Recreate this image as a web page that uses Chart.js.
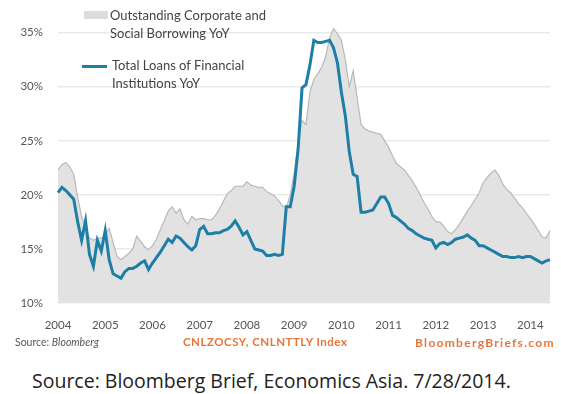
<!DOCTYPE html>
<html>
<head>
<meta charset="utf-8">
<script src="https://cdn.jsdelivr.net/npm/chart.js@4/dist/chart.umd.min.js"></script>
<style>
  html, body { margin: 0; padding: 0; background: #fff; }
  body { width: 561px; height: 394px; position: relative; overflow: hidden; font-family: Lato, "Open Sans", sans-serif; }
  #wrap { position: absolute; left: 0; top: 0; width: 561px; height: 338px; }
  .lg { position: absolute; font-size: 13px; color: #444; line-height: 18px; white-space: nowrap; }
  .sw { position: absolute; }
  .foot { position: absolute; white-space: nowrap; }
</style>
</head>
<body>
<div id="wrap"><canvas id="chart"></canvas></div>

<!-- legend -->
<div class="sw" style="left:84px;top:11px;width:24px;height:8px;background:#dcdcdc"></div>
<div class="lg" style="left:110px;top:6px">Outstanding Corporate and<br>Social Borrowing YoY</div>
<div class="sw" style="left:82px;top:65px;width:25px;height:3px;background:#1e7fa6"></div>
<div class="lg" style="left:112px;top:56px">Total Loans of Financial<br>Institutions YoY</div>

<!-- source lines -->
<div class="foot" style="left:15px;top:336px;font-size:10.5px;color:#555">Source: <i>Bloomberg</i></div>
<div class="foot" style="left:183px;top:335px;font-size:11.5px;color:#e8743b;font-weight:bold;letter-spacing:0.5px">CNLZOCSY, CNLNTTLY Index</div>
<div class="foot" style="left:415px;top:335px;font-size:12px;color:#e8743b;font-weight:bold;letter-spacing:1.3px">BloombergBriefs.com</div>
<div class="foot" style="left:32px;top:367px;font-family:'Open Sans',sans-serif;font-size:19.5px;color:#222">Source: Bloomberg Brief, Economics Asia. 7/28/2014.</div>

<script>
// monthly, Jan 2004 .. Jun 2014
const startYear = 2004;

const borrowing = [
  22.3, 22.8, 23.0, 22.6, 21.9, 19.8, 18.0, 17.0, 16.0, 15.8, 16.0, 16.0,
  16.3, 16.9, 15.6, 14.3, 14.0, 14.3, 14.6, 15.0, 16.2, 15.7, 15.2, 14.9,
  15.3, 15.9, 16.8, 17.6, 18.5, 18.9, 18.3, 18.7, 17.7, 17.3, 18.0, 17.7,
  17.8, 17.8, 17.7, 17.7, 18.1, 18.7, 19.4, 20.1, 20.4, 20.8, 20.8, 20.8,
  21.2, 20.9, 20.8, 20.7, 20.7, 20.3, 20.1, 19.9, 19.5, 19.0, 18.8, 20.0,
  22.0, 24.8, 26.9, 26.5, 29.5, 30.7, 31.2, 31.8, 32.8, 34.5, 35.4, 34.9,
  34.3, 32.5, 30.0, 31.5, 29.0, 26.5, 26.1, 25.9, 25.8, 25.7, 25.6, 25.0,
  24.4, 23.6, 22.9, 22.6, 22.3, 21.8, 21.3, 20.7, 20.0, 19.3, 18.7, 18.0,
  17.5, 17.5, 17.1, 16.6, 16.4, 16.8, 17.3, 17.9, 18.5, 19.0, 19.6, 20.2,
  21.1, 21.6, 22.0, 22.3, 21.8, 21.0, 20.5, 20.2, 19.7, 19.2, 18.8, 18.3,
  17.8, 17.3, 16.7, 16.1, 16.0, 16.7
];

const loans = [
  20.2, 20.7, 20.4, 20.0, 19.6, 17.5, 15.8, 17.6, 14.5, 13.4, 15.8, 14.8,
  16.7, 14.0, 12.7, 12.5, 12.3, 12.9, 13.2, 13.2, 13.4, 13.7, 13.9, 13.1,
  13.7, 14.2, 14.7, 15.3, 15.9, 15.6, 16.2, 16.0, 15.6, 15.2, 14.9, 15.3,
  16.8, 17.1, 16.4, 16.4, 16.5, 16.5, 16.7, 16.8, 17.1, 17.6, 17.0, 16.3,
  16.6, 15.8, 15.0, 14.9, 14.8, 14.4, 14.4, 14.5, 14.4, 14.5, 18.9, 18.9,
  20.8, 24.2, 29.9, 30.2, 32.0, 34.3, 34.1, 34.1, 34.2, 34.3, 33.6, 32.2,
  29.5, 27.3, 24.0, 21.9, 21.7, 18.4, 18.4, 18.5, 18.6, 19.2, 19.8, 19.8,
  19.2, 18.1, 17.9, 17.6, 17.3, 16.9, 16.7, 16.4, 16.2, 16.0, 15.9, 15.8,
  15.1, 15.5, 15.6, 15.4, 15.6, 15.9, 16.0, 16.1, 16.3, 16.0, 15.8, 15.3,
  15.3, 15.1, 14.9, 14.7, 14.5, 14.3, 14.3, 14.2, 14.2, 14.3, 14.2, 14.3,
  14.3, 14.1, 13.9, 13.7, 13.9, 14.0
];

const yTicks = [10, 15, 20, 25, 30, 35];

const labels = loans.map((_, i) => {
  const y = startYear + Math.floor(i / 12);
  const m = (i % 12) + 1;
  return y + '-' + String(m).padStart(2, '0');
});

const BLUE = '#1e7fa6';

new Chart(document.getElementById('chart'), {
  type: 'line',
  data: {
    labels,
    datasets: [
      {
        label: 'Total Loans of Financial Institutions YoY',
        data: loans,
        borderColor: BLUE,
        borderWidth: 3,
        pointRadius: 0,
        tension: 0,
        fill: false,
        order: 0
      },
      {
        label: 'Outstanding Corporate and Social Borrowing YoY',
        data: borrowing,
        borderColor: '#b9b9b9',
        borderWidth: 1.2,
        backgroundColor: '#e2e2e2',
        pointRadius: 0,
        tension: 0,
        fill: 'start',
        order: 1
      }
    ]
  },
  options: {
    responsive: true,
    maintainAspectRatio: false,
    devicePixelRatio: 1,
    animation: false,
    layout: { padding: { left: 0, right: 11, top: 11, bottom: 0 } },
    plugins: { legend: { display: false }, tooltip: { enabled: false } },
    scales: {
      x: {
        type: 'category',
        offset: false,
        grid: { display: false, drawTicks: false },
        border: { display: false },
        ticks: {
          autoSkip: false,
          maxRotation: 0,
          padding: 15,
          color: '#555',
          font: { family: 'Lato', size: 11.5 },
          callback: (v, i) => (i % 12 === 0 ? String(startYear + i / 12) : null)
        },
        afterFit: s => { s.height = 35; }
      },
      y: {
        min: 10,
        max: 36,
        grid: { color: '#e9e9e9', lineWidth: 1.5, drawTicks: false },
        border: { display: false },
        afterBuildTicks: s => { s.ticks = yTicks.map(v => ({ value: v })); },
        ticks: {
          padding: 15,
          color: '#555',
          font: { family: 'Lato', size: 11.5 },
          callback: v => v + '%'
        },
        afterFit: s => { s.width = 58; }
      }
    }
  }
});
</script>
</body>
</html>
